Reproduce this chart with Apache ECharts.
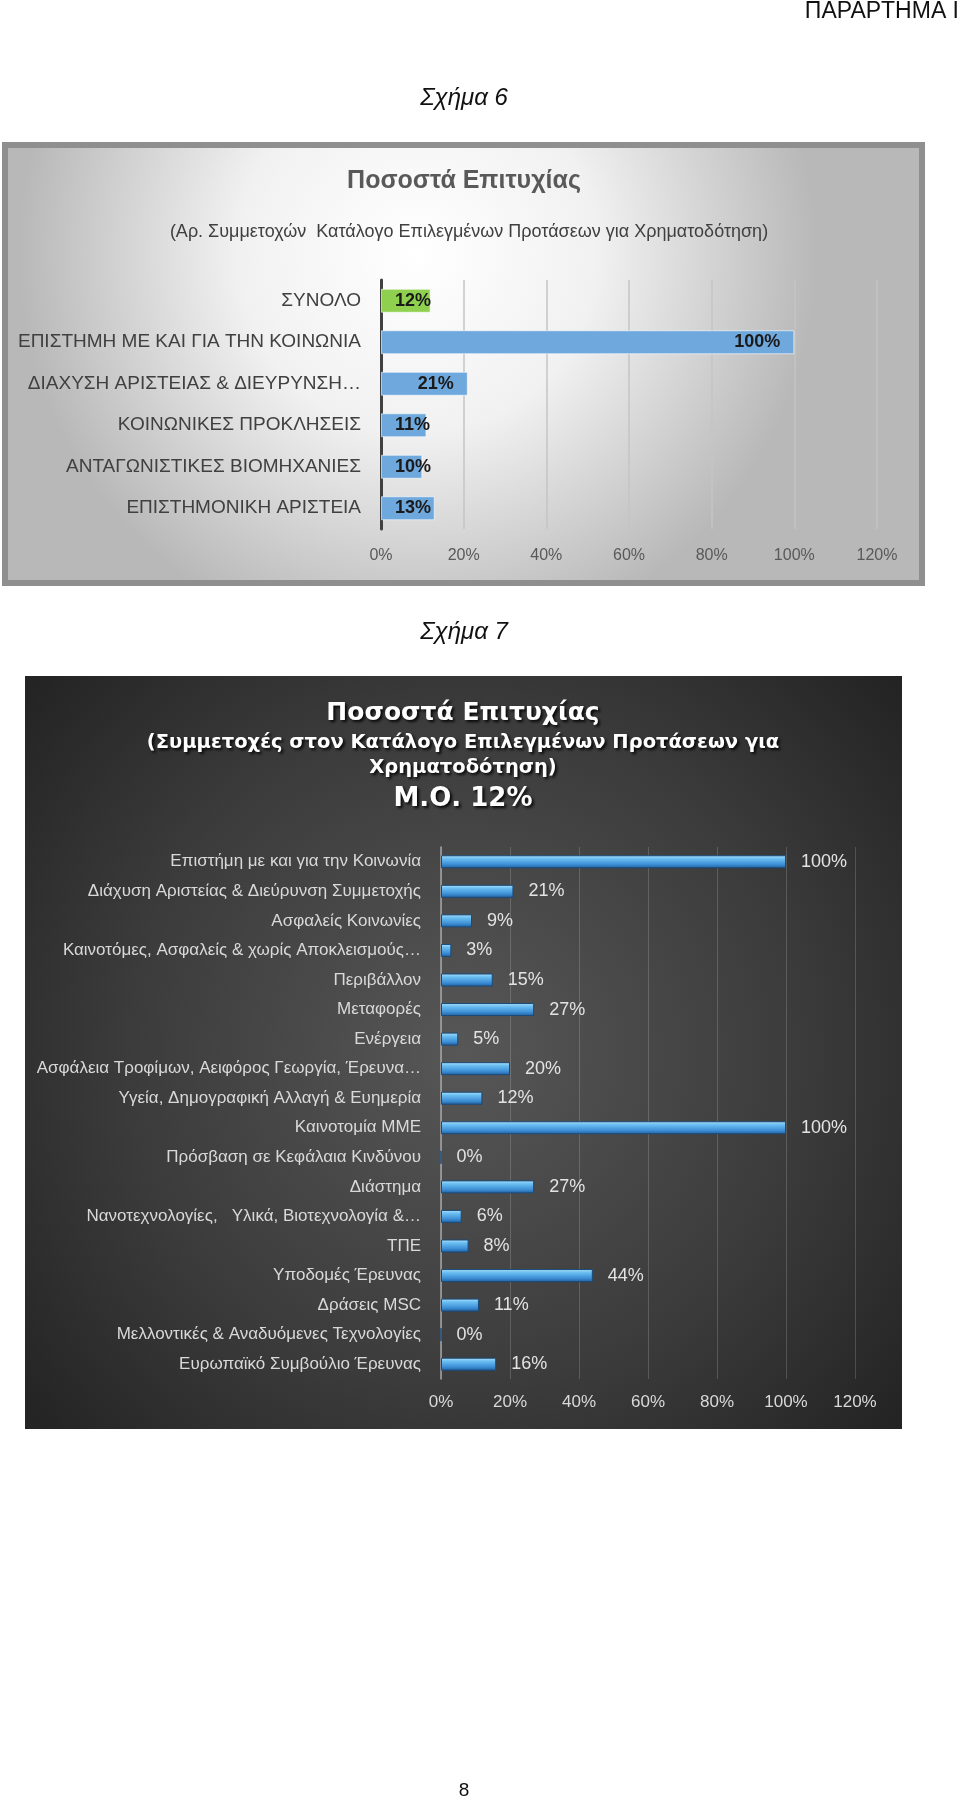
<!DOCTYPE html>
<html>
<head>
<meta charset="utf-8">
<script src="https://cdn.jsdelivr.net/npm/echarts@6/dist/echarts.min.js"></script>
<style>
html,body{margin:0;padding:0;background:#fff;}
#page{width:960px;height:1801px;}
</style>
</head>
<body>
<div id="page"></div>
<script>
// ---- Data: Σχήμα 6 ----
const cats6 = [
  'ΣΥΝΟΛΟ',
  'ΕΠΙΣΤΗΜΗ ΜΕ ΚΑΙ ΓΙΑ ΤΗΝ ΚΟΙΝΩΝΙΑ',
  'ΔΙΑΧΥΣΗ ΑΡΙΣΤΕΙΑΣ & ΔΙΕΥΡΥΝΣΗ…',
  'ΚΟΙΝΩΝΙΚΕΣ ΠΡΟΚΛΗΣΕΙΣ',
  'ΑΝΤΑΓΩΝΙΣΤΙΚΕΣ ΒΙΟΜΗΧΑΝΙΕΣ',
  'ΕΠΙΣΤΗΜΟΝΙΚΗ ΑΡΙΣΤΕΙΑ'
];
const vals6 = [12, 100, 21, 11, 10, 13];

// ---- Data: Σχήμα 7 ----
const cats7 = [
  'Επιστήμη με και για την Κοινωνία',
  'Διάχυση Αριστείας & Διεύρυνση Συμμετοχής',
  'Ασφαλείς Κοινωνίες',
  'Καινοτόμες, Ασφαλείς & χωρίς Αποκλεισμούς…',
  'Περιβάλλον',
  'Μεταφορές',
  'Ενέργεια',
  'Ασφάλεια Τροφίμων, Αειφόρος Γεωργία, Έρευνα…',
  'Υγεία, Δημογραφική Αλλαγή & Ευημερία',
  'Καινοτομία ΜΜΕ',
  'Πρόσβαση σε Κεφάλαια Κινδύνου',
  'Διάστημα',
  'Νανοτεχνολογίες,   Υλικά, Βιοτεχνολογία &…',
  'ΤΠΕ',
  'Υποδομές Έρευνας',
  'Δράσεις MSC',
  'Μελλοντικές & Αναδυόμενες Τεχνολογίες',
  'Ευρωπαϊκό Συμβούλιο Έρευνας'
];
const vals7 = [100, 21, 9, 3, 15, 27, 5, 20, 12, 100, 0, 27, 6, 8, 44, 11, 0, 16];

// ---- Axis ticks ----
const axisMin = 0, axisMax = 120, axisStep = 20;

// ---- Texts ----
const pageHeader = 'ΠΑΡΑΡΤΗΜΑ Ι';
const fig6Caption = 'Σχήμα 6';
const fig7Caption = 'Σχήμα 7';
const title6 = 'Ποσοστά Επιτυχίας';
const subtitle6 = '(Αρ. Συμμετοχών  Κατάλογο Επιλεγμένων Προτάσεων για Χρηματοδότηση)';
const title7 = 'Ποσοστά Επιτυχίας';
const subtitle7a = '(Συμμετοχές στον Κατάλογο Επιλεγμένων Προτάσεων για';
const subtitle7b = 'Χρηματοδότηση)';
const avg7 = 'Μ.Ο. 12%';
const pageNumber = '8';

const FONT = '"Liberation Sans", Arial, sans-serif';
const WIDE = '"DejaVu Sans", sans-serif';

const chart = echarts.init(document.getElementById('page'), null, {renderer: 'canvas', width: 960, height: 1801});

const data6 = vals6.map((v, i) => ({
  value: v,
  itemStyle: { color: i === 0 ? '#8fd14f' : '#6fa8dc' },
  label: { position: v >= 20 ? 'insideRight' : 'insideLeft' }
}));

const shadowText = {
  fill: '#ffffff',
  textShadowColor: 'rgba(0,0,0,0.9)',
  textShadowBlur: 3,
  textShadowOffsetX: 2,
  textShadowOffsetY: 2
};

const option = {
  animation: false,
  graphic: [
    // Chart 6 frame
    { type: 'rect', z: -10, shape: { x: 5, y: 145, width: 917, height: 438 },
      style: { stroke: '#8f8f8f', lineWidth: 6,
        fill: { type: 'radial', x: 0.45, y: 0.25, r: 0.9,
          colorStops: [ { offset: 0, color: '#ffffff' }, { offset: 0.45, color: '#f1f1f1' }, { offset: 1, color: '#b8b8b8' } ] } } },
    // Chart 7 frame
    { type: 'rect', z: -10, shape: { x: 25, y: 676, width: 877, height: 753 },
      style: { fill: { type: 'radial', x: 0.5, y: 0.5, r: 0.75,
          colorStops: [ { offset: 0, color: '#575757' }, { offset: 0.6, color: '#3b3b3b' }, { offset: 1, color: '#242424' } ] } } },
    // page texts
    { type: 'text', z: 5, x: 959, y: 12, style: { text: pageHeader, font: '23px ' + FONT, fill: '#111', align: 'right', verticalAlign: 'middle' } },
    { type: 'text', z: 5, x: 464, y: 98, style: { text: fig6Caption, font: 'italic 24px ' + FONT, fill: '#111', align: 'center', verticalAlign: 'middle' } },
    { type: 'text', z: 5, x: 464, y: 632, style: { text: fig7Caption, font: 'italic 24px ' + FONT, fill: '#111', align: 'center', verticalAlign: 'middle' } },
    { type: 'text', z: 5, x: 464, y: 1791, style: { text: pageNumber, font: '19px ' + FONT, fill: '#111', align: 'center', verticalAlign: 'middle' } },
    // chart 6 titles
    { type: 'text', z: 5, x: 464, y: 181, style: { text: title6, font: 'bold 25px ' + FONT, fill: '#595959', align: 'center', verticalAlign: 'middle' } },
    { type: 'text', z: 5, x: 469, y: 232, style: { text: subtitle6, font: '18px ' + FONT, fill: '#404040', align: 'center', verticalAlign: 'middle' } },
    // chart 7 titles
    { type: 'text', z: 5, x: 463, y: 713, style: Object.assign({ text: title7, font: 'bold 25px ' + WIDE, align: 'center', verticalAlign: 'middle' }, shadowText) },
    { type: 'text', z: 5, x: 463, y: 743, style: Object.assign({ text: subtitle7a, font: 'bold 19.5px ' + WIDE, align: 'center', verticalAlign: 'middle' }, shadowText) },
    { type: 'text', z: 5, x: 463, y: 768, style: Object.assign({ text: subtitle7b, font: 'bold 19.5px ' + WIDE, align: 'center', verticalAlign: 'middle' }, shadowText) },
    { type: 'text', z: 5, x: 463, y: 799, style: Object.assign({ text: avg7, font: 'bold 26px ' + WIDE, align: 'center', verticalAlign: 'middle' }, shadowText) }
  ],
  grid: [
    { left: 381, top: 280, width: 496, height: 249, containLabel: false },
    { left: 441, top: 847, width: 414, height: 532, containLabel: false }
  ],
  xAxis: [
    { gridIndex: 0, type: 'value', min: axisMin, max: axisMax, interval: axisStep,
      axisLine: { show: false }, axisTick: { show: false },
      axisLabel: { formatter: '{value}%', color: '#595959', fontSize: 16, fontFamily: FONT, margin: 19 },
      splitLine: { lineStyle: { color: '#c4c4c4', width: 1.5 } } },
    { gridIndex: 1, type: 'value', min: axisMin, max: axisMax, interval: axisStep,
      axisLine: { show: false }, axisTick: { show: false },
      axisLabel: { formatter: '{value}%', color: '#d9d9d9', fontSize: 17, fontFamily: FONT, margin: 15 },
      splitLine: { lineStyle: { color: 'rgba(255,255,255,0.17)', width: 1 } } }
  ],
  yAxis: [
    { gridIndex: 0, type: 'category', data: cats6, inverse: true,
      axisLine: { show: true, lineStyle: { color: '#404040', width: 3 } }, axisTick: { show: false },
      axisLabel: { color: '#404040', fontSize: 19, fontFamily: FONT, margin: 20 } },
    { gridIndex: 1, type: 'category', data: cats7, inverse: true,
      axisLine: { show: true, lineStyle: { color: '#a6a6a6', width: 1.5 } }, axisTick: { show: false },
      axisLabel: { color: '#d9d9d9', fontSize: 17, fontFamily: FONT, margin: 20 } }
  ],
  series: [
    { type: 'bar', xAxisIndex: 0, yAxisIndex: 0, data: data6, barWidth: 24,
      itemStyle: { borderColor: 'rgba(255,255,255,0.6)', borderWidth: 1 },
      label: { show: true, formatter: '{c}%', distance: 14, color: '#1a1a1a', fontSize: 18, fontWeight: 'bold', fontFamily: FONT } },
    { type: 'bar', xAxisIndex: 1, yAxisIndex: 1, data: vals7, barWidth: 13,
      itemStyle: {
        color: { type: 'linear', x: 0, y: 0, x2: 0, y2: 1,
          colorStops: [ { offset: 0, color: '#b6e4fb' }, { offset: 0.25, color: '#6cc0f2' }, { offset: 0.7, color: '#3d8fd6' }, { offset: 1, color: '#1f5e9c' } ] },
        borderColor: '#1b4a78', borderWidth: 1 },
      label: { show: true, position: 'right', distance: 15, formatter: '{c}%', color: '#e3e3e3', fontSize: 18, fontFamily: FONT } }
  ]
};
chart.setOption(option);
</script>
</body>
</html>
